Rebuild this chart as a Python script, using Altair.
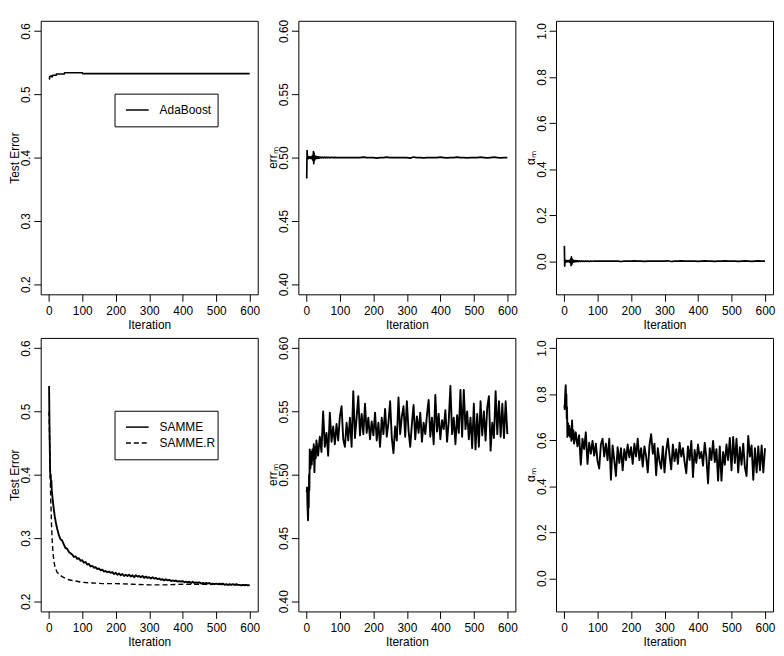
import altair as alt
import pandas as pd

FONT = "Liberation Sans"

# ---------------- data ----------------
# Top-left: AdaBoost test error
ada_iter = [1, 2, 3, 5, 7, 10, 12, 22, 23, 46, 48, 100, 102, 600]
ada_err = [0.5235, 0.524, 0.528, 0.5285, 0.529, 0.5275, 0.530, 0.530, 0.532,
           0.532, 0.534, 0.534, 0.5325, 0.5325]

# Top-middle / top-right: AdaBoost err_m and alpha_m
ab_iter = (list(range(1, 29))
           + [30, 32, 34, 36, 38, 40, 43, 46, 49, 52, 55, 58, 61, 64, 67, 70, 75, 80, 85, 90]
           + list(range(100, 601, 10)))
ab_errm = [0.4834, 0.5055, 0.5002, 0.4998, 0.5005, 0.4992, 0.5008, 0.4995, 0.5003, 0.4996,
           0.5006, 0.4994, 0.5004, 0.4993, 0.5005, 0.4996, 0.5012, 0.4988, 0.5015, 0.4975,
           0.5048, 0.4952, 0.5035, 0.4975, 0.5015, 0.4988, 0.5010, 0.4992,
           0.5008, 0.4993, 0.5006, 0.4995, 0.5005, 0.4996, 0.5004, 0.4997, 0.5003, 0.4997,
           0.5003, 0.4998, 0.5002, 0.4998, 0.5002, 0.4998, 0.5002, 0.4999, 0.5001, 0.4999,
           0.5, 0.5, 0.5, 0.5, 0.5, 0.5, 0.5, 0.5004, 0.5, 0.5,
           0.5, 0.4996, 0.5, 0.5, 0.5003, 0.5, 0.5, 0.5, 0.5, 0.5,
           0.5, 0.4996, 0.5004, 0.5, 0.5, 0.4997, 0.5, 0.5, 0.5, 0.5,
           0.5003, 0.5, 0.4997, 0.5, 0.5, 0.5003, 0.5, 0.5, 0.4997, 0.5,
           0.5, 0.5, 0.5003, 0.5, 0.4997, 0.5, 0.5003, 0.5, 0.4997, 0.5,
           0.5]
ab_alpha = [0.0664, -0.0220, -0.0008, 0.0008, -0.0020, 0.0032, -0.0032, 0.0020, -0.0012, 0.0016,
            -0.0024, 0.0024, -0.0016, 0.0028, -0.0020, 0.0016, -0.0048, 0.0048, -0.0060, 0.0100,
            -0.0192, 0.0192, -0.0140, 0.0100, -0.0060, 0.0048, -0.0040, 0.0032,
            -0.0032, 0.0028, -0.0024, 0.0020, -0.0020, 0.0016, -0.0016, 0.0012, -0.0012, 0.0012,
            -0.0012, 0.0008, -0.0008, 0.0008, -0.0008, 0.0008, -0.0008, 0.0004, -0.0004, 0.0004,
            0, 0, 0, 0, 0, 0, 0, -0.0016, 0, 0,
            0, 0.0016, 0, 0, -0.0012, 0, 0, 0, 0, 0,
            0, 0.0016, -0.0016, 0, 0, 0.0012, 0, 0, 0, 0,
            -0.0012, 0, 0.0012, 0, 0, -0.0012, 0, 0, 0.0012, 0,
            0, 0, -0.0012, 0, 0.0012, 0, -0.0012, 0, 0.0012, 0,
            0]

# Bottom-left: SAMME and SAMME.R test error
samme_iter = [1, 2, 3, 4, 5, 6, 7, 8, 9, 10, 12, 14, 16, 18, 20, 22, 25, 28] + list(range(30, 601, 5))
samme_err = [0.540, 0.490, 0.450, 0.410, 0.395, 0.400, 0.385, 0.390, 0.375, 0.370,
             0.360, 0.350, 0.342, 0.334, 0.328, 0.322, 0.315, 0.309,
             0.305, 0.298, 0.296, 0.290, 0.284, 0.283, 0.278, 0.276, 0.274, 0.270,
             0.271, 0.267, 0.268, 0.264, 0.265, 0.261, 0.262, 0.258, 0.259, 0.255,
             0.256, 0.253, 0.254, 0.251, 0.252, 0.249, 0.250, 0.247, 0.248, 0.246,
             0.247, 0.245, 0.246, 0.243, 0.245, 0.242, 0.244, 0.241, 0.243, 0.240,
             0.242, 0.240, 0.242, 0.239, 0.241, 0.238, 0.241, 0.239, 0.240, 0.238,
             0.240, 0.237, 0.239, 0.237, 0.238, 0.236, 0.238, 0.236, 0.237, 0.235,
             0.236, 0.234, 0.235, 0.233, 0.235, 0.233, 0.234, 0.232, 0.233, 0.232,
             0.233, 0.231, 0.232, 0.231, 0.232, 0.230, 0.231, 0.230, 0.231, 0.229,
             0.231, 0.229, 0.230, 0.229, 0.230, 0.228, 0.229, 0.228, 0.229, 0.228,
             0.229, 0.227, 0.228, 0.227, 0.228, 0.227, 0.228, 0.227, 0.228, 0.226,
             0.227, 0.226, 0.227, 0.226, 0.227, 0.226, 0.227, 0.226, 0.226, 0.225,
             0.226, 0.225, 0.226, 0.225, 0.226]
sammer_iter = [1, 2, 3, 4, 5, 6, 7, 8, 10, 12, 14, 16, 18, 20, 25, 30, 40, 50, 60, 80,
               100, 130, 160, 200, 250, 300, 350, 400, 450, 500, 550, 600]
sammer_err = [0.500, 0.470, 0.440, 0.410, 0.385, 0.360, 0.345, 0.325, 0.300, 0.282,
              0.270, 0.262, 0.256, 0.252, 0.246, 0.243, 0.239, 0.236, 0.234, 0.232,
              0.230, 0.229, 0.228, 0.228, 0.227, 0.226, 0.226, 0.227, 0.227, 0.227,
              0.226, 0.226]

# Bottom-middle / bottom-right: SAMME err_m and alpha_m
sm_iter = list(range(1, 11)) + list(range(12, 31, 2)) + list(range(35, 601, 5))
sm_errm = [0.486, 0.490, 0.478, 0.470, 0.464, 0.480, 0.474, 0.500, 0.488, 0.520,
           0.505, 0.518, 0.508, 0.520, 0.512, 0.524, 0.502, 0.522, 0.513, 0.527,
           0.515, 0.530, 0.518, 0.550, 0.522, 0.533, 0.515, 0.549, 0.526, 0.538, 0.524, 0.540, 0.527, 0.546,
           0.554, 0.528, 0.522, 0.541, 0.527, 0.545, 0.522, 0.566, 0.529, 0.545,
           0.562, 0.531, 0.548, 0.532, 0.556, 0.533, 0.545, 0.528, 0.542, 0.531,
           0.549, 0.527, 0.541, 0.522, 0.545, 0.532, 0.552, 0.530, 0.541, 0.558,
           0.529, 0.517, 0.538, 0.527, 0.561, 0.532, 0.546, 0.554, 0.530, 0.558,
           0.535, 0.522, 0.540, 0.555, 0.528, 0.546, 0.533, 0.549, 0.526, 0.541,
           0.532, 0.547, 0.559, 0.530, 0.545, 0.524, 0.563, 0.534, 0.548, 0.528,
           0.543, 0.536, 0.551, 0.526, 0.542, 0.570, 0.532, 0.545, 0.524, 0.547,
           0.533, 0.567, 0.530, 0.567, 0.536, 0.550, 0.528, 0.545, 0.521, 0.556,
           0.520, 0.548, 0.522, 0.558, 0.531, 0.550, 0.527, 0.553, 0.562, 0.519,
           0.541, 0.529, 0.566, 0.532, 0.558, 0.530, 0.556, 0.529, 0.558, 0.532]
sm_alpha = [0.751, 0.735, 0.783, 0.815, 0.839, 0.775, 0.799, 0.694, 0.743, 0.614,
            0.674, 0.622, 0.662, 0.614, 0.646, 0.597, 0.686, 0.606, 0.642, 0.585,
            0.634, 0.573, 0.622, 0.493, 0.606, 0.561, 0.634, 0.497, 0.589, 0.541, 0.597, 0.533, 0.585, 0.509,
            0.477, 0.581, 0.606, 0.529, 0.585, 0.513, 0.606, 0.428, 0.577, 0.513,
            0.444, 0.569, 0.501, 0.565, 0.469, 0.561, 0.513, 0.581, 0.525, 0.569,
            0.497, 0.585, 0.529, 0.606, 0.513, 0.565, 0.485, 0.573, 0.529, 0.460,
            0.577, 0.626, 0.541, 0.585, 0.448, 0.565, 0.509, 0.477, 0.573, 0.460,
            0.553, 0.606, 0.533, 0.473, 0.581, 0.509, 0.561, 0.497, 0.589, 0.529,
            0.565, 0.505, 0.456, 0.573, 0.513, 0.597, 0.440, 0.557, 0.501, 0.581,
            0.521, 0.549, 0.489, 0.589, 0.525, 0.412, 0.565, 0.513, 0.597, 0.505,
            0.561, 0.424, 0.573, 0.424, 0.549, 0.493, 0.581, 0.513, 0.610, 0.469,
            0.614, 0.501, 0.606, 0.460, 0.569, 0.493, 0.585, 0.481, 0.444, 0.618,
            0.529, 0.577, 0.428, 0.565, 0.460, 0.573, 0.469, 0.577, 0.460, 0.565]

x_ticks = [0, 100, 200, 300, 400, 500, 600]
te_ticks = [0.2, 0.3, 0.4, 0.5, 0.6]
err_ticks = [0.40, 0.45, 0.50, 0.55, 0.60]
alpha_ticks = [0.0, 0.2, 0.4, 0.6, 0.8, 1.0]

legend_top = ["AdaBoost"]
legend_bottom = ["SAMME", "SAMME.R"]

# ---------------- layout ----------------
W, H = 219, 276
LW = 1.7


def xenc():
    return alt.X("it:Q",
                 scale=alt.Scale(domain=[-24, 624], nice=False, zero=False),
                 axis=alt.Axis(values=x_ticks, title="Iteration", format="d",
                               labelFlush=False, labelOverlap=False,
                               tickSize=7, labelPadding=4, titlePadding=3))


def yenc(domain, ticks, fmt, title):
    return alt.Y("v:Q",
                 scale=alt.Scale(domain=domain, nice=False, zero=False),
                 axis=alt.Axis(values=ticks, format=fmt, title=title,
                               labelAngle=270, labelAlign="center",
                               labelBaseline="alphabetic", labelOverlap=False,
                               labelFlush=False, tickSize=7, labelPadding=4,
                               titleAngle=270, titleAlign="center",
                               titleBaseline="alphabetic", titleX=-22, titleY=H / 2))


def line(it, vals, domain, ticks, fmt, title, dash=None, width=LW):
    df = pd.DataFrame({"it": it, "v": vals})
    kw = dict(color="black", strokeWidth=width, clip=True, strokeJoin="round")
    if dash:
        kw["strokeDash"] = dash
    return alt.Chart(df).mark_line(**kw).encode(
        x=xenc(), y=yenc(domain, ticks, fmt, title))


one = pd.DataFrame({"k": [0]})


def legend_box(x0, x1, y0, y1):
    return alt.Chart(one).mark_rect(fill="white", stroke="black", strokeWidth=1).encode(
        x=alt.value(x0), x2=alt.value(x1), y=alt.value(y0), y2=alt.value(y1))


def legend_entry(label, y, dash=None):
    kw = dict(color="black", strokeWidth=1.5)
    if dash:
        kw["strokeDash"] = dash
    rule = alt.Chart(one).mark_rule(**kw).encode(
        x=alt.value(86), x2=alt.value(109), y=alt.value(y))
    txt = alt.Chart(one).mark_text(align="left", baseline="middle", font=FONT,
                                   fontSize=12, color="black").encode(
        x=alt.value(120), y=alt.value(y), text=alt.value(label))
    return rule + txt


TE = [0.184, 0.616]
ERR = [0.392, 0.608]
AL = [-0.144, 1.044]

p1 = alt.layer(
    line(ada_iter, ada_err, TE, te_ticks, ".1f", "Test Error"),
    legend_box(75, 179, 74, 107),
    legend_entry(legend_top[0], 90),
).properties(width=W, height=H)

p2 = line(ab_iter, ab_errm, ERR, err_ticks, ".2f", "errₘ").properties(width=W, height=H)
p3 = line(ab_iter, ab_alpha, AL, alpha_ticks, ".1f", "αₘ").properties(width=W, height=H)

p4 = alt.layer(
    line(sammer_iter, sammer_err, TE, te_ticks, ".1f", "Test Error", dash=[5, 3], width=1.4),
    line(samme_iter, samme_err, TE, te_ticks, ".1f", "Test Error", width=1.9),
    legend_box(75, 179, 74, 123),
    legend_entry(legend_bottom[0], 90),
    legend_entry(legend_bottom[1], 106, dash=[5, 3]),
).properties(width=W, height=H)

p5 = line(sm_iter, sm_errm, ERR, err_ticks, ".2f", "errₘ", width=1.9).properties(width=W, height=H)
p6 = line(sm_iter, sm_alpha, AL, alpha_ticks, ".1f", "αₘ", width=1.9).properties(width=W, height=H)

chart = alt.concat(
    p1, p2, p3, p4, p5, p6, columns=3,
    spacing={"row": 44, "column": 41}, bounds="flush",
).properties(
    padding={"left": 0, "top": 8, "right": 0, "bottom": 0},
    background="white",
).configure_view(
    stroke="black", strokeWidth=1
).configure_axis(
    grid=False, domain=False,
    labelFont=FONT, labelFontSize=12, labelColor="black",
    titleFont=FONT, titleFontSize=12, titleFontWeight="normal", titleColor="black",
    tickColor="black", tickWidth=1,
)

chart.save("out.html", embed_options={"renderer": "svg", "actions": False})
